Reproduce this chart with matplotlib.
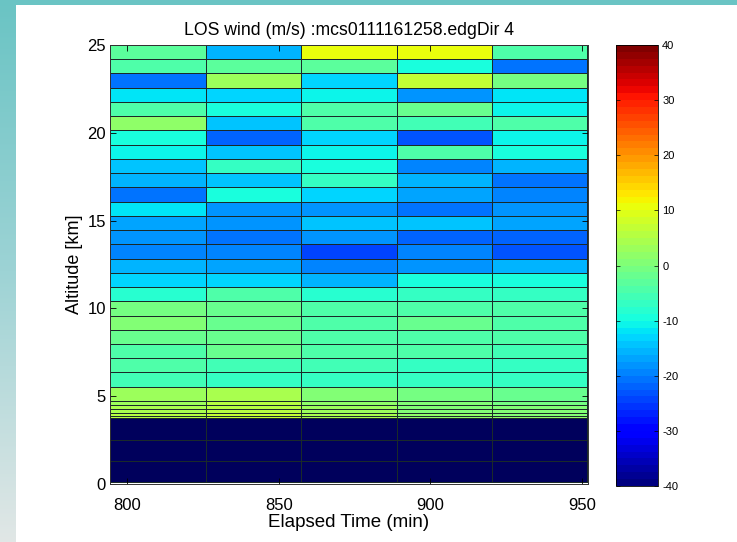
import numpy as np
import matplotlib
matplotlib.use('Agg')
import matplotlib.pyplot as plt
from matplotlib.colors import LinearSegmentedColormap

plt.rcParams['font.family'] = ['Liberation Sans', 'DejaVu Sans']
plt.rcParams['axes.unicode_minus'] = False

# time bin edges (min) and altitude bin edges (km, top to bottom)
time_edges = [794.4, 826.0, 857.5, 889.0, 920.5, 951.6]
alt_edges = [25.0, 24.19, 23.38, 22.57, 21.76, 20.95, 20.14, 19.32, 18.51,
             17.70, 16.89, 16.08, 15.27, 14.46, 13.65, 12.84, 12.03, 11.22,
             10.41, 9.59, 8.78, 7.97, 7.16, 6.35, 5.54, 4.73, 4.50, 4.27,
             4.06, 3.89, 3.74, 2.5, 1.3, 0.1]

# LOS wind (m/s), one row per altitude bin from 25 km downwards
wind = [
    [-3, -16, 10, 10, -4],
    [-5, -3, -3, -9, -21],
    [-21, 2.5, -13.5, 6.5, -1],
    [-12.5, -13.5, -11, -18.5, -12],
    [-5, -9, -5, -1.5, -10.5],
    [1.5, -15, -5, -5.5, -4],
    [-9.5, -22.5, -13.5, -23.5, -11],
    [-10.5, -15, -11, -4, -10],
    [-15, -6.5, -9.5, -19.5, -16],
    [-16, -14, -7, -15.5, -21],
    [-21, -10, -13.5, -17.5, -20],
    [-12.5, -18.5, -18.5, -20.5, -18.5],
    [-17.5, -18, -15, -15, -17],
    [-18.5, -21, -18, -22.5, -22.5],
    [-19.5, -20, -24, -19.5, -23],
    [-16, -17.5, -19.5, -18.5, -15.5],
    [-13, -13, -15.5, -10, -10],
    [-8, -5, -8, -7, -7],
    [-1, -2.5, -5, -5, -5],
    [0, -1.5, -4, -2.5, -5],
    [-2.5, -2.5, -5, -5, -5],
    [-4, -2.5, -5, -5, -5.5],
    [-5, -5.5, -5.5, -6.5, -6.5],
    [-5.5, -6.5, -6.5, -6.5, -6.5],
    [2.5, 4, 0, -1, -1.5],
    [3, 5, 2, 0, -1],
    [4, 6, 3, 1, 0],
    [4, 6, 3, 1, 0],
    [5, 7, 4, 2, 1],
    [5, 7, 4, 2, 2],
    [-50, -50, -50, -50, -50],
    [-50, -50, -50, -50, -50],
    [-50, -50, -50, -50, -50],
]

x_ticks = [800, 850, 900, 950]
y_ticks = [0, 5, 10, 15, 20, 25]
cbar_ticks = [-40, -30, -20, -10, 0, 10, 20, 30, 40]

fig = plt.figure(figsize=(7.37, 5.42), dpi=100)
fig.patch.set_facecolor('white')

# slide border: teal strip on top, fading strip on the left
band = LinearSegmentedColormap.from_list('band', ['#6ac4c4', '#9dd3d5', '#e1e7e6'])
ax_left = fig.add_axes([0, 0, 16 / 737, 1])
ax_left.imshow(np.linspace(0, 1, 256).reshape(-1, 1), aspect='auto', cmap=band)
ax_left.axis('off')
ax_top = fig.add_axes([0, 1 - 5 / 542, 1, 5 / 542])
ax_top.axis('off')
ax_top.add_patch(plt.Rectangle((0, 0), 1, 1, color='#6ac4c4', transform=ax_top.transAxes))

cmap = plt.get_cmap('jet', 64).copy()
cmap.set_under('#00005c')

ax = fig.add_axes([110 / 737, 1 - 484 / 542, 478 / 737, 439 / 542])
X, Y = np.meshgrid(time_edges, alt_edges[::-1])
C = np.array(wind)[::-1]
mesh = ax.pcolormesh(X, Y, C, cmap=cmap, vmin=-40, vmax=40,
                     edgecolors='#1a2a2a', linewidth=0.6)

ax.set_xlim(794.4, 952)
ax.set_ylim(0, 25)
ax.set_xticks(x_ticks)
ax.set_yticks(y_ticks)
ax.tick_params(direction='in', top=True, right=True, length=4, width=0.6,
               labelsize=12)
ax.tick_params(axis='x', pad=10)
ax.tick_params(axis='y', pad=3)
for s in ax.spines.values():
    s.set_linewidth(0.7)
    s.set_color('#333333')

ax.set_title('LOS wind (m/s) :mcs0111161258.edgDir 4', fontsize=12.7, pad=7)
ax.set_xlabel('Elapsed Time (min)', fontsize=13.5, labelpad=1)
ax.set_ylabel('Altitude [km]', fontsize=13, labelpad=3)

cax = fig.add_axes([616 / 737, 1 - 486 / 542, 42 / 737, 441 / 542])
cb = fig.colorbar(mesh, cax=cax, ticks=cbar_ticks)
cb.outline.set_linewidth(0.6)
cax.tick_params(direction='in', left=True, right=True, length=3, width=0.5,
                labelsize=8, pad=3)

plt.savefig('out.png', dpi=100)
